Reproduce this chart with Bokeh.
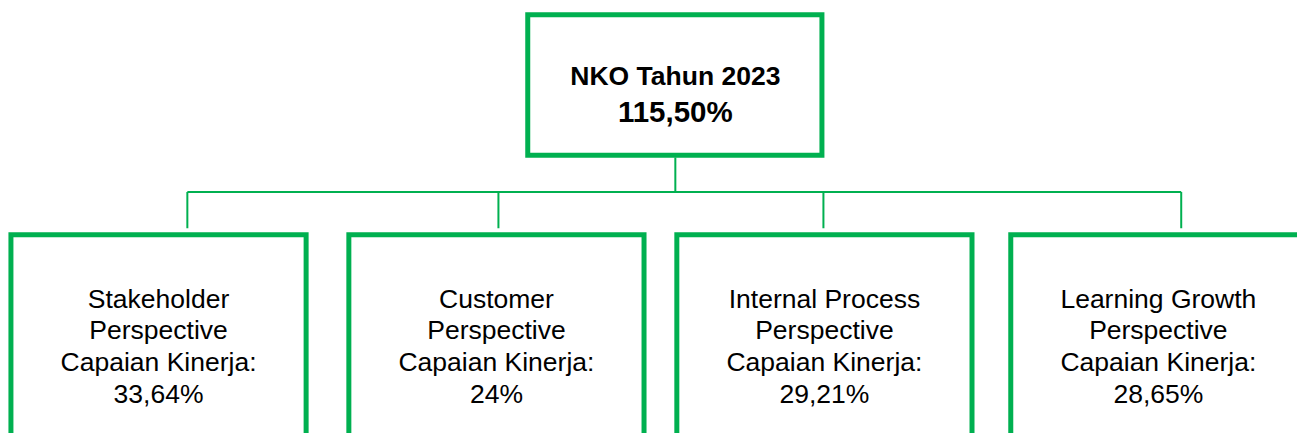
from bokeh.plotting import figure
from bokeh.models import Range1d, ColumnDataSource
from bokeh.core.properties import value
from bokeh.embed import file_html
from bokeh.resources import INLINE

# ---- data ----
root_title = "NKO Tahun 2023"
root_value = "115,50%"
perspectives = ["Stakeholder", "Customer", "Internal Process", "Learning Growth"]
perspective_word = "Perspective"
capaian_label = "Capaian Kinerja:"
capaian_values = ["33,64%", "24%", "29,21%", "28,65%"]

# ---- layout (pixel coordinates of the reference picture) ----
GREEN = "#00B050"
FONT = "Liberation Sans"
W, H = 1305, 441
M = 8

root_box = dict(left=530.5, right=826.5, top=14.5, bottom=157.5)
child_left = [10.5, 350.5, 680.5, 1016.5]
child_w = 297
child_top = 238.5
child_bottom = 470
drop_x = [188, 501, 828, 1188]
bus_y = 195
root_cx = 679

p = figure(width=W - M, height=H - M, x_range=Range1d(0, W), y_range=Range1d(H, 0),
           output_backend="svg", toolbar_location=None, min_border=0,
           background_fill_color="white", border_fill_color="white")
p.axis.visible = False
p.grid.visible = False
p.outline_line_color = None

# boxes
lefts = [root_box["left"]] + child_left
rights = [root_box["right"]] + [l + child_w for l in child_left]
tops = [root_box["top"]] + [child_top] * 4
bottoms = [root_box["bottom"]] + [child_bottom] * 4
p.quad(left=lefts, right=rights, top=tops, bottom=bottoms, fill_alpha=0,
       line_color=GREEN, line_width=5, line_join="miter")

# connectors
xs = [[root_cx, root_cx], [drop_x[0], drop_x[-1]]] + [[x, x] for x in drop_x]
ys = [[root_box["bottom"] + 2.5, bus_y], [bus_y, bus_y]] + [[bus_y, child_top - 6.5] for _ in drop_x]
p.multi_line(xs=xs, ys=ys, line_color=GREEN, line_width=2)

# root texts
p.text(x=[root_cx], y=[77], text=[root_title], text_font=value(FONT), text_font_size="26.5px",
       text_font_style="bold", text_align="center", text_baseline="alphabetic", text_color="black")
p.text(x=[root_cx], y=[113], text=[root_value], text_font=value(FONT), text_font_size="29.5px",
       text_font_style="bold", text_align="center", text_baseline="alphabetic", text_color="black")

# child texts
cx, cy, ct = [], [], []
baselines = [304, 336, 368, 401]
for i, name in enumerate(perspectives):
    c = child_left[i] + child_w / 2
    for b, t in zip(baselines, [name, perspective_word, capaian_label, capaian_values[i]]):
        cx.append(c); cy.append(b); ct.append(t)
src = ColumnDataSource(dict(x=cx, y=cy, text=ct))
p.text(x="x", y="y", text="text", source=src, text_font=value(FONT), text_font_size="26.5px",
       text_align="center", text_baseline="alphabetic", text_color="black")

open("out.html", "w").write(file_html(p, INLINE))
